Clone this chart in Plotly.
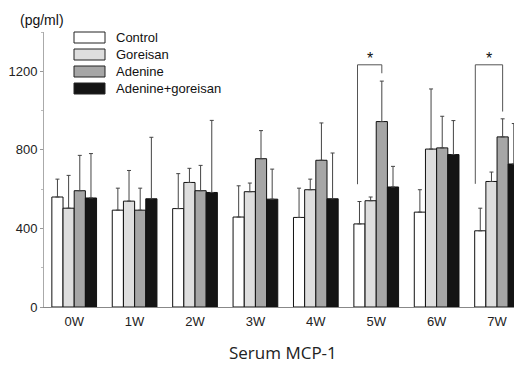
import plotly.graph_objects as go

categories = ["0W", "1W", "2W", "3W", "4W", "5W", "6W", "7W"]
series_names = ["Control", "Goreisan", "Adenine", "Adenine+goreisan"]
control = [560, 493, 501, 458, 456, 423, 483, 388]
control_sd = [91, 112, 178, 159, 149, 114, 114, 115]
goreisan = [503, 539, 634, 587, 597, 541, 804, 639]
goreisan_sd = [167, 156, 72, 44, 54, 19, 306, 48]
adenine = [592, 493, 592, 755, 747, 944, 810, 866]
adenine_sd = [180, 112, 129, 143, 190, 206, 161, 92]
adenine_goreisan = [555, 551, 583, 549, 551, 611, 776, 728]
adenine_goreisan_sd = [226, 313, 367, 153, 233, 105, 173, 206]
y_ticks = [0, 400, 800, 1200]
sig_weeks = ["5W", "7W"]
sig_left_y = [625, 627]
sig_top_y = [1233, 1233]
sig_right_y = [1190, 995]

fills = ["#ffffff", "#dedede", "#a6a6a6", "#141414"]
values = [control, goreisan, adenine, adenine_goreisan]
sds = [control_sd, goreisan_sd, adenine_sd, adenine_goreisan_sd]

fig = go.Figure()
for name, v, sd, c in zip(series_names, values, sds, fills):
    fig.add_trace(go.Bar(
        x=categories, y=v, name=name,
        marker=dict(color=c, line=dict(color="#111111", width=1)),
        error_y=dict(type="data", array=sd, arrayminus=[0] * len(sd), symmetric=False,
                     color="#444444", thickness=1, width=2),
        showlegend=False,
    ))

# significance brackets
bw = 0.74 / 4
left_off = [-0.31, -0.36]
for wk, lo, yl, yt, yr in zip(sig_weeks, left_off, sig_left_y, sig_top_y, sig_right_y):
    i = categories.index(wk)
    xl = i + lo
    xr = i + 0.5 * bw
    fig.add_shape(type="path",
                  path=f"M {xl},{yl} L {xl},{yt} L {xr},{yt} L {xr},{yr}",
                  xref="x", yref="y", line=dict(color="#555555", width=1))
    fig.add_annotation(x=(xl + xr) / 2, y=yt, text="*", showarrow=False,
                       yshift=6, font=dict(size=16, color="#111111",
                                           family="Liberation Sans, Arial"))

# page offset (browser body margin)
OFF = 8
# plot area in page pixels
L, R, T, B = 44, 520, 32, 307
def px(x):
    return (x - L) / (R - L)
def py(y):
    return (B - y) / (B - T)
for k, (name, c) in enumerate(zip(series_names, fills)):
    top = 32 + k * 17
    fig.add_shape(type="rect", xref="paper", yref="paper",
                  x0=px(74), x1=px(105), y0=py(top + 11), y1=py(top),
                  fillcolor=c, line=dict(color="#222222", width=1))
    fig.add_annotation(xref="paper", yref="paper", x=px(114), y=py(top + 5.5),
                       xanchor="left", yanchor="middle", showarrow=False,
                       text=name, font=dict(size=13, color="#111111",
                                            family="Liberation Sans, Arial"))

fig.add_annotation(xref="paper", yref="paper", x=px(18), y=py(20),
                   xanchor="left", yanchor="middle", showarrow=False,
                   text="(pg/ml)", font=dict(size=14, color="#111111",
                                             family="Liberation Sans, Arial"))
fig.add_annotation(xref="paper", yref="paper", x=px(283), y=py(352),
                   xanchor="center", yanchor="middle", showarrow=False,
                   text="Serum MCP-1", font=dict(size=17, color="#222222",
                                                 family="Open Sans"))

W, H = 522, 370
fig.update_layout(
    width=W - OFF, height=H - OFF,
    margin=dict(l=L - OFF, r=W - R, t=T - OFF, b=H - B, autoexpand=False),
    paper_bgcolor="white", plot_bgcolor="white",
    barmode="group", bargap=0.26, bargroupgap=0,
    font=dict(family="Liberation Sans, Arial", size=13, color="#222222"),
    xaxis=dict(type="category", range=[-0.5, 7.38], showgrid=False,
               showline=True, linecolor="#888888", linewidth=1,
               ticks="outside", ticklen=2, tickcolor="rgba(0,0,0,0)",
               tickfont=dict(size=13, color="#222222"), zeroline=False),
    yaxis=dict(range=[0, 1400], tickvals=y_ticks, showgrid=False,
               showline=True, linecolor="#aaaaaa", linewidth=1,
               ticks="outside", ticklen=3, tickcolor="#999999",
               minor=dict(dtick=200, ticks="outside", ticklen=2, tickcolor="#bbbbbb"),
               tickfont=dict(size=13, color="#222222"), zeroline=False),
)

fig.write_html("out.html")
